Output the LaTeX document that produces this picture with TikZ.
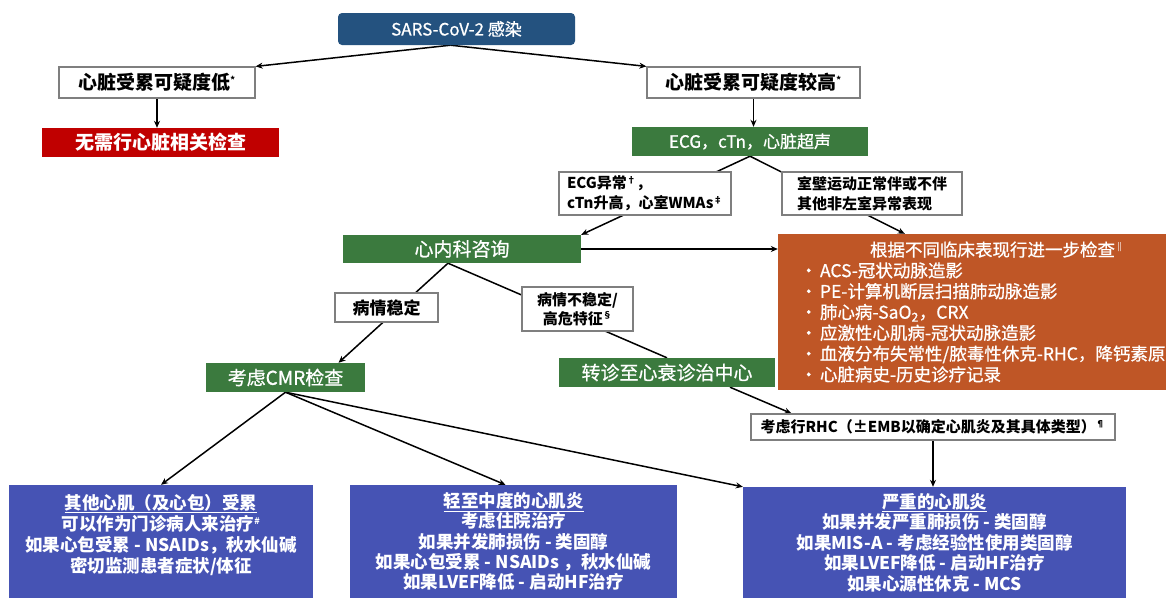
\documentclass[tikz,border=0pt]{standalone}
\usepackage{fontspec}
\setmainfont{Noto Sans CJK SC}
\newfontfamily\medfont{Noto Sans CJK SC}[FakeBold=0.8]
\usetikzlibrary{arrows.meta}
\pgfdeclarelayer{bg}
\pgfsetlayers{bg,main}
\definecolor{sarsblue}{HTML}{24527F}
\definecolor{redfill}{HTML}{C00000}
\definecolor{greenfill}{HTML}{3B7A3E}
\definecolor{orangefill}{HTML}{BF5626}
\definecolor{bluefill}{HTML}{4653B4}
\definecolor{grayline}{HTML}{7F7F7F}
\newcommand\myfs[2]{\fontsize{#1}{#2}\selectfont}
\newcommand\mysup[1]{\textsuperscript{\fontsize{9}{9}\selectfont #1}}
\tikzset{
  base/.style={inner sep=0pt, align=center},
  whitebox/.style={base, draw=grayline, line width=1.2pt, fill=white, text=black},
  greenbox/.style={base, fill=greenfill, text=white, font=\medfont\myfs{19}{22}},
  bluebox/.style={base, fill=bluefill, text=white, font=\myfs{17.5}{20.6}\bfseries},
  conn/.style={line width=1.5pt, black},
  arr/.style={conn, -{Stealth[length=7pt,width=6pt]}},
}
\begin{document}
\begin{tikzpicture}[x=1pt,y=-1pt]
\useasboundingbox (0,0) rectangle (1168,598);

\node[base, fill=sarsblue, rounded corners=4pt, text=white, minimum width=237pt, minimum height=32pt, font=\medfont\myfs{17}{20}] (sars) at (456.5,29) {SARS-CoV-2 感染};

\node[whitebox, minimum width=196pt, minimum height=31pt, font=\myfs{19}{22}\bfseries] (low) at (157,82.5) {心脏受累可疑度低\mysup{*}};
\node[base, fill=redfill, text=white, minimum width=237pt, minimum height=29pt, font=\myfs{19}{22}\bfseries] (noneed) at (160.5,142.5) {无需行心脏相关检查};

\node[whitebox, minimum width=213pt, minimum height=31pt, font=\myfs{19}{22}\bfseries] (high) at (753.5,82.5) {心脏受累可疑度较高\mysup{*}};
\node[greenbox, minimum width=236pt, minimum height=29pt, font=\medfont\myfs{17}{20}] (ecg) at (750,141.5) {ECG，cTn，心脏超声};

\node[whitebox, minimum width=172pt, minimum height=43pt, font=\myfs{15}{20}\bfseries, align=left] (ecgab) at (645,193.5) {ECG异常\mysup{†}，\\cTn升高，心室WMAs\mysup{‡}};
\node[whitebox, minimum width=180pt, minimum height=43pt, font=\myfs{15}{20}\bfseries, align=left] (wall) at (872,193.5) {室壁运动正常伴或不伴\\其他非左室异常表现};

\node[greenbox, minimum width=238pt, minimum height=28pt] (cardio) at (462,249) {心内科咨询};

\node[whitebox, minimum width=103pt, minimum height=29pt, font=\myfs{17}{20}\bfseries] (stable) at (386.5,307.5) {病情稳定};
\node[whitebox, minimum width=111pt, minimum height=44pt, font=\myfs{15}{18.5}\bfseries] (unstable) at (577.5,309) {病情不稳定/\\高危特征\mysup{§}};

\node[greenbox, minimum width=159pt, minimum height=29pt] (cmr) at (285.5,377.5) {考虑CMR检查};
\node[greenbox, minimum width=216pt, minimum height=29pt] (hf) at (667,372.5) {转诊至心衰诊治中心};

\node[base, fill=orangefill, text=white, minimum width=388pt, minimum height=156pt, font=\medfont\myfs{17.5}{20.8}] (orange) at (972,312) {\begin{minipage}{388pt}\raggedright
\hspace*{92pt}根据不同临床表现行进一步检查\mysup{‖}\\
\makebox[42pt][l]{\hspace*{22pt}•}ACS-冠状动脉造影\\
\makebox[42pt][l]{\hspace*{22pt}•}PE-计算机断层扫描肺动脉造影\\
\makebox[42pt][l]{\hspace*{22pt}•}肺心病-SaO\textsubscript{2}，CRX\\
\makebox[42pt][l]{\hspace*{22pt}•}应激性心肌病-冠状动脉造影\\
\makebox[42pt][l]{\hspace*{22pt}•}血液分布失常性/脓毒性休克-RHC，降钙素原\\
\makebox[42pt][l]{\hspace*{22pt}•}心脏病史-历史诊疗记录
\end{minipage}};

\node[whitebox, minimum width=364pt, minimum height=26pt, font=\myfs{15}{18}\bfseries] (rhc) at (933,427) {考虑行RHC（±EMB以确定心肌炎及其具体类型）\mysup{¶}};

\node[bluebox, minimum width=304pt, minimum height=113pt] (bleft) at (161,541.5) {\parbox{300pt}{\centering\myfs{17.5}{21.3}\bfseries
\underline{其他心肌（及心包）受累}\\
可以作为门诊病人来治疗\mysup{\#}\\
如果心包受累 - NSAIDs，秋水仙碱\\
密切监测患者症状/体征\par\vspace{13pt}}};

\node[bluebox, minimum width=327pt, minimum height=113pt] (bmid) at (513.5,541.5) {\parbox{320pt}{\centering\myfs{17.5}{20.3}\bfseries
\underline{轻至中度的心肌炎}\\
考虑住院治疗\\
如果并发肺损伤 - 类固醇\\
如果心包受累 - NSAIDs ，秋水仙碱\\
如果LVEF降低 - 启动HF治疗}};

\node[bluebox, minimum width=383pt, minimum height=111pt] (bright) at (934.5,542.5) {\parbox{375pt}{\centering\myfs{17.5}{20.5}\bfseries
\underline{严重的心肌炎}\\
如果并发严重肺损伤 - 类固醇\\
如果MIS-A - 考虑经验性使用类固醇\\
如果LVEF降低 - 启动HF治疗\\
如果心源性休克 - MCS}};

\begin{pgfonlayer}{bg}
\fill[white] (0,0) rectangle (1168,598);
\draw[arr] ([xshift=-6pt]sars.south) -- (low.north east);
\draw[arr] ([xshift=-6pt]sars.south) -- (high.north west);
\draw[arr] (low.south) -- (low.south |- noneed.north);
\draw[arr] (high.south) -- (high.south |- ecg.north);
\draw[arr] (ecg.south) -- (cardio.north east);
\draw[arr] (ecg.south) -- ([xshift=127pt]orange.north west);
\draw[arr] (cardio.east) -- (cardio.east -| orange.west);
\draw[arr] ([xshift=-14pt]cardio.south) -- ([xshift=53pt]cmr.north);
\draw[conn] ([xshift=-14pt]cardio.south) -- (hf.north);
\draw[arr] ([xshift=63pt]hf.south) -- ([xshift=41pt]rhc.north west);
\draw[arr] (rhc.south) -- (rhc.south |- bright.north);
\draw[arr] (cmr.south) -- (bleft.north);
\draw[arr] (cmr.south) -- ([xshift=-8pt]bmid.north);
\draw[arr] (cmr.south) -- (bright.north west);
\end{pgfonlayer}
\end{tikzpicture}
\end{document}
